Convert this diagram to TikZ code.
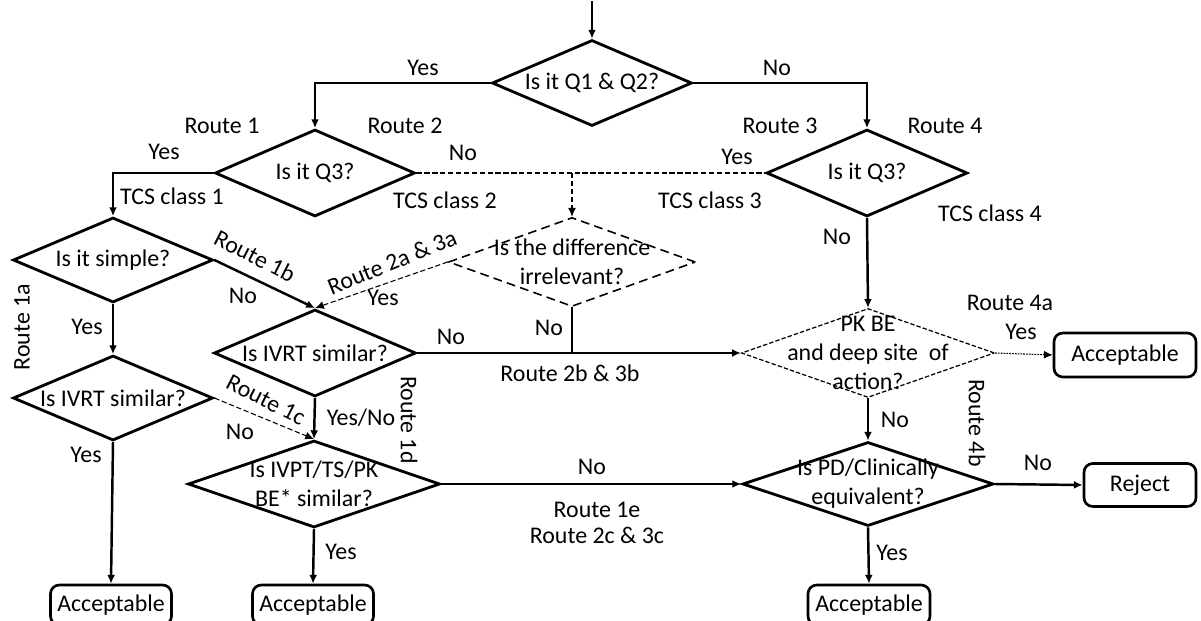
\documentclass[tikz,border=0pt]{standalone}
\usepackage{fontspec}
\setmainfont{Carlito}
\usetikzlibrary{shapes.geometric,arrows.meta,positioning}

\tikzset{
  dec/.style={diamond, draw, line width=1.6pt, inner sep=0pt},
  decweak/.style={diamond, draw, line width=0.9pt, inner sep=0pt, dash pattern=on 5pt off 3pt},
  decdot/.style={diamond, draw, line width=0.7pt, inner sep=0pt, dash pattern=on 2.5pt off 1.2pt},
  dtext/.style={align=center, inner sep=0pt},
  endbox/.style={draw, rounded corners=5pt, line width=1.5pt, inner sep=0pt},
  lbl/.style={inner sep=0pt},
  link/.style={line width=1.4pt, ->},
  hint/.style={line width=0.6pt, dash pattern=on 3pt off 1.5pt, ->},
}

\begin{document}
\begin{tikzpicture}[x=0.2mm,y=-0.2mm,>={Latex[length=5pt,width=4.5pt]},
  font=\fontsize{13.6}{16.5}\selectfont]
\useasboundingbox (0,0) rectangle (1201,620);

% decisions
\node[dec, minimum width=4cm, minimum height=1.72cm,
  label={[dtext]center:Is it Q1 \& Q2?}] (q12) at (592,83) {};
\node[dec, minimum width=4cm, minimum height=1.74cm,
  label={[dtext]center:Is it Q3?}] (q3a) at (315,173) {};
\node[dec, minimum width=4.02cm, minimum height=1.74cm,
  label={[dtext]center:Is it Q3?}] (q3b) at (867,173) {};
\node[decweak, minimum width=4.94cm, minimum height=1.78cm,
  label={[dtext]center:Is the difference\\irrelevant?}] (irr) at (572,262) {};
\node[dec, minimum width=4cm, minimum height=1.7cm,
  label={[dtext]center:Is it simple?}] (simple) at (113,260) {};
\node[dec, minimum width=4cm, minimum height=1.7cm,
  label={[dtext]center:Is IVRT similar?}] (ivrta) at (113,398) {};
\node[dec, minimum width=4.04cm, minimum height=1.74cm,
  label={[dtext]center:Is IVRT similar?}] (ivrtb) at (315,353) {};
\node[dec, minimum width=5.04cm, minimum height=1.74cm,
  label={[dtext]center:Is IVPT/TS/PK\\BE* similar?}] (ivpt) at (314,484) {};
\node[decdot, minimum width=5.06cm, minimum height=1.78cm,
  label={[dtext]center:PK BE\\and deep site\ \ of\\action?}] (pkbe) at (868,353) {};
\node[dec, minimum width=5.02cm, minimum height=1.68cm,
  label={[dtext]center:Is PD/Clinically\\equivalent?}] (pd) at (868,484) {};

% outcomes
\node[endbox, minimum width=2.84cm, minimum height=0.88cm] (acc4a) at (1125,355) {Acceptable};
\node[endbox, minimum width=2.24cm, minimum height=0.86cm] (reject) at (1140,485) {Reject};
\node[endbox, minimum width=2.42cm, minimum height=0.8cm] (acca) at (111,605) {Acceptable};
\node[endbox, minimum width=2.42cm, minimum height=0.8cm] (accb) at (313,605) {Acceptable};
\node[endbox, minimum width=2.44cm, minimum height=0.8cm] (accc) at (869,605) {Acceptable};

\coordinate (start) at (592,1);

% connectors
\draw[link] (start) -- (q12.north);
\draw[link] (q12.west) -| (q3a.north);
\draw[link] (q12.east) -| (q3b.north);
\draw[link] (q3a.west) -| (simple.north);
\draw[line width=0.6pt, dash pattern=on 3pt off 1.5pt] (q3a.east) -- (q3b.west);
\draw[hint] (q3a.east -| irr.north) -- (irr.north);
\draw[link] (simple.south) -- (ivrta.north);
\draw[link] (simple.east) -- (ivrtb.north);
\draw[hint] (irr.west) -- (ivrtb.north);
\draw[line width=1.4pt] (irr.south) -- (irr.south |- ivrtb.east);
\draw[link] (ivrtb.east) -- (pkbe.west);
\draw[link] (ivrtb.south) -- (ivpt.north);
\draw[hint] (ivrta.east) -- (ivpt.north);
\draw[link] (ivrta.south) -- (acca.north);
\draw[link] (ivpt.south) -- (accb.north);
\draw[link] (ivpt.east) -- (pd.west);
\draw[link] (q3b.south) -- (pkbe.north);
\draw[line width=0.6pt, dash pattern=on 1pt off 0.6pt, ->] (pkbe.east) -- (acc4a.west);
\draw[link] (pkbe.south) -- (pd.north);
\draw[link] (pd.east) -- (reject.west);
\draw[link] (pd.south) -- (accc.north);

% labels
\node[lbl] (yes12) at (423,68) {Yes};
\node[lbl] (no12) at (777,68) {No};
\node[lbl] (r1) at (222,126) {Route 1};
\node[lbl] (r2) at (405,126) {Route 2};
\node[lbl] (r3) at (780,126) {Route 3};
\node[lbl] (r4) at (945,126) {Route 4};
\node[lbl] (yes3a) at (164,152) {Yes};
\node[lbl] (no3a) at (463,153) {No};
\node[lbl] (yes3b) at (737,157) {Yes};
\node[lbl] (tcs1) at (172,196) {TCS class 1};
\node[lbl] (tcs2) at (445,200) {TCS class 2};
\node[lbl] (tcs3) at (710,200) {TCS class 3};
\node[lbl] (tcs4) at (990,213) {TCS class 4};
\node[lbl] (no3b) at (837,237) {No};
\node[lbl, rotate=-27] (r1b) at (255,256) {Route 1b};
\node[lbl, rotate=22] (r2a) at (392,262) {Route 2a \& 3a};
\node[lbl] (nosimple) at (243,296) {No};
\node[lbl] (yesirr) at (383,298) {Yes};
\node[lbl, rotate=90] (r1a) at (22,327) {Route 1a};
\node[lbl] (yessimple) at (87,327) {Yes};
\node[lbl] (noirr) at (549,328) {No};
\node[lbl] (noivrtb) at (451,337) {No};
\node[lbl] (r2b) at (570,373) {Route 2b \& 3b};
\node[lbl] (r4a) at (1010,303) {Route 4a};
\node[lbl] (yespkbe) at (1021,332) {Yes};
\node[lbl, rotate=-27] (r1c) at (266,400) {Route 1c};
\node[lbl] (yesno) at (361,418) {Yes/No};
\node[lbl, rotate=-90] (r1d) at (409,420) {Route 1d};
\node[lbl, rotate=-90] (r4b) at (977,423) {Route 4b};
\node[lbl] (nopkbe) at (895,420) {No};
\node[lbl] (noivrta) at (240,432) {No};
\node[lbl] (yesivrta) at (86,455) {Yes};
\node[lbl] (noivpt) at (592,467) {No};
\node[lbl] (nopd) at (1038,463) {No};
\node[lbl] (r1e) at (597,510) {Route 1e};
\node[lbl] (r2c) at (597,535) {Route 2c \& 3c};
\node[lbl] (yesivpt) at (341,552) {Yes};
\node[lbl] (yespd) at (892,553) {Yes};
\end{tikzpicture}
\end{document}
